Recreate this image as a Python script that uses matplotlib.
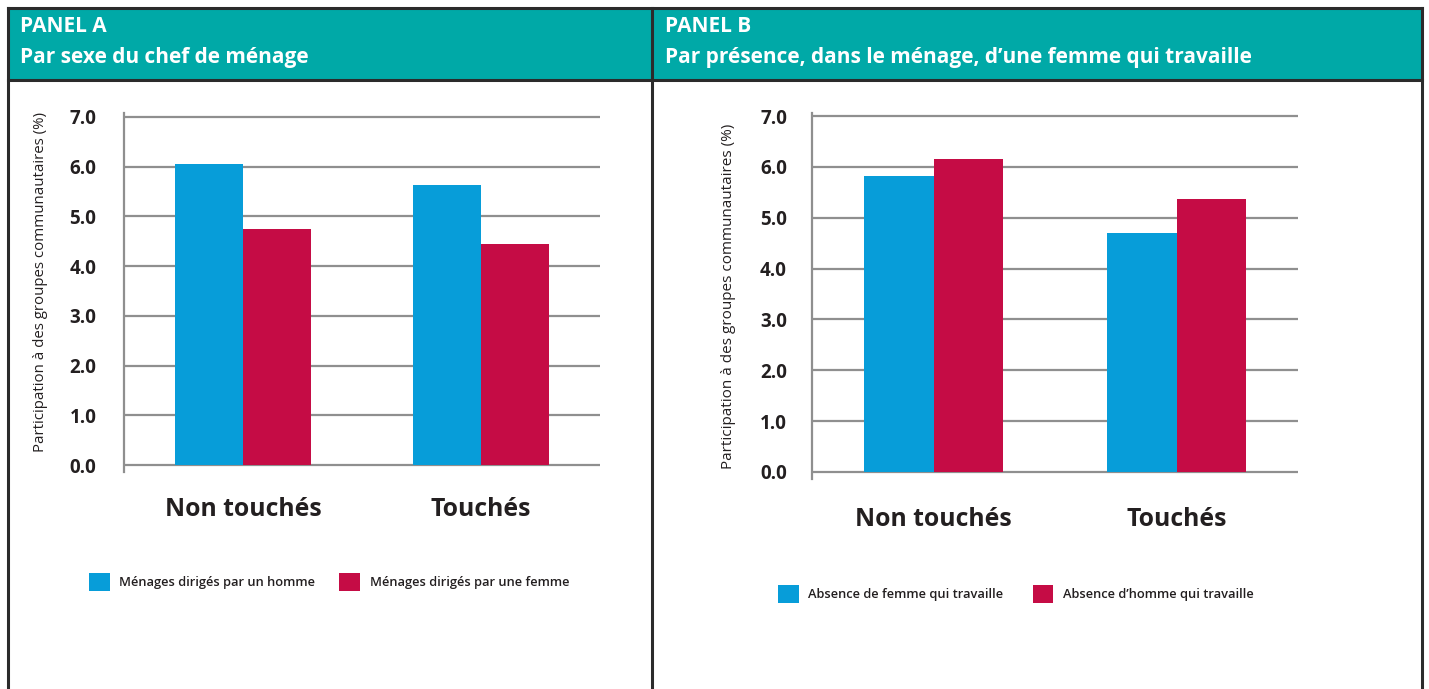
import matplotlib
matplotlib.use("Agg")
import matplotlib.pyplot as plt
from matplotlib.patches import Rectangle, Patch
from matplotlib.lines import Line2D

plt.rcParams['font.family'] = ['Open Sans', 'DejaVu Sans']

# ---- data ----
categories = ["Non touchés", "Touchés"]

panel_a_title = ["PANEL A", "Par sexe du chef de ménage"]
panel_a_series = ["Ménages dirigés par un homme", "Ménages dirigés par une femme"]
panel_a_male = [6.05, 5.63]
panel_a_female = [4.74, 4.44]

panel_b_title = ["PANEL B", "Par présence, dans le ménage, d’une femme qui travaille"]
panel_b_series = ["Absence de femme qui travaille", "Absence d’homme qui travaille"]
panel_b_no_woman = [5.82, 4.70]
panel_b_no_man = [6.16, 5.36]

y_ticks = [0, 1, 2, 3, 4, 5, 6, 7]
y_label = "Participation à des groupes communautaires (%)"

# ---- style ----
W, H = 1429, 689
BLUE = "#079DD9"
RED = "#C50C45"
TEAL = "#00A9A7"
FRAME = "#2B2B2B"
GRID = "#8F8F8F"
INK = "#231F20"


def fx(x):
    return x / W


def fy(y):
    return 1 - y / H


fig = plt.figure(figsize=(W / 100, H / 100), dpi=100)
fig.patch.set_facecolor("white")

# header band and frame
fig.patches.append(Rectangle((fx(8), fy(80)), fx(1422) - fx(8), fy(8) - fy(80),
                             transform=fig.transFigure, facecolor=TEAL,
                             edgecolor="none", zorder=0))
frame_lines = [
    ((8, 1422), (8, 8)),        # top
    ((8, 1422), (80, 80)),      # below header
    ((8, 8), (8, 689)),         # left
    ((652, 652), (8, 689)),     # divider
    ((1422, 1422), (8, 689)),   # right
]
for xs, ys in frame_lines:
    fig.lines.append(Line2D([fx(xs[0]), fx(xs[1])], [fy(ys[0]), fy(ys[1])],
                            transform=fig.transFigure, color=FRAME, lw=2.2,
                            solid_capstyle="projecting", zorder=1))

# header texts
for x0, title in ((20, panel_a_title), (665, panel_b_title)):
    fig.text(fx(x0), fy(26), title[0], color="white", fontsize=15,
             fontweight="bold", va="center", ha="left")
    fig.text(fx(x0), fy(58), title[1], color="white", fontsize=15,
             fontweight="bold", va="center", ha="left")


def draw_panel(rect_px, ylim, s1, s2, names, ypad, ylabel_xy, ylabel_size,
               xpad, legend_xy, colpad):
    left, top, right, bottom = rect_px
    ax = fig.add_axes([fx(left), fy(bottom), fx(right) - fx(left), fy(top) - fy(bottom)])
    x = list(range(len(categories)))
    w = 0.286
    ax.bar([i - w / 2 for i in x], s1, width=w, color=BLUE, zorder=3)
    ax.bar([i + w / 2 for i in x], s2, width=w, color=RED, zorder=3)
    ax.set_xlim(-0.5, 1.5)
    ax.set_ylim(*ylim)
    for t in y_ticks:
        ax.axhline(t, color=GRID, lw=1.6, zorder=1)
    for side in ("top", "right", "bottom"):
        ax.spines[side].set_visible(False)
    ax.spines["left"].set_color(GRID)
    ax.spines["left"].set_linewidth(1.6)
    ax.set_yticks(y_ticks)
    ax.set_yticklabels([f"{v:.1f}" for v in y_ticks], fontsize=13.5,
                       fontweight="bold", color=INK)
    ax.tick_params(axis="y", length=0, pad=ypad)
    ax.set_xticks(x)
    ax.set_xticklabels(categories, fontsize=17.8, fontweight="bold", color=INK)
    ax.tick_params(axis="x", length=0, pad=xpad)
    ax.set_facecolor("none")

    fig.text(fx(ylabel_xy[0]), fy(ylabel_xy[1]), y_label, rotation=90,
             fontsize=ylabel_size, color=INK, ha="center", va="center")

    handles = [Patch(facecolor=BLUE, edgecolor="none"), Patch(facecolor=RED, edgecolor="none")]
    fig.legend(handles, names, loc="center left",
               bbox_to_anchor=(fx(legend_xy[0]), fy(legend_xy[1])),
               ncol=2, frameon=False, handlelength=1.6,
               handleheight=1.65, handletextpad=0.75, columnspacing=colpad,
               borderpad=0, borderaxespad=0, labelcolor=INK,
               prop={"weight": "semibold", "size": 9.3})
    return ax


draw_panel((124, 113, 600, 472), (-0.14, 7.08), panel_a_male, panel_a_female,
           panel_a_series, 20, (41, 282), 10.8, 18, (89, 582), 1.85)
draw_panel((812, 113, 1298, 479), (-0.14, 7.06), panel_b_no_woman, panel_b_no_man,
           panel_b_series, 18, (729, 296), 11.0, 20, (778, 594), 2.25)

fig.savefig("out.png", dpi=100, facecolor="white")
